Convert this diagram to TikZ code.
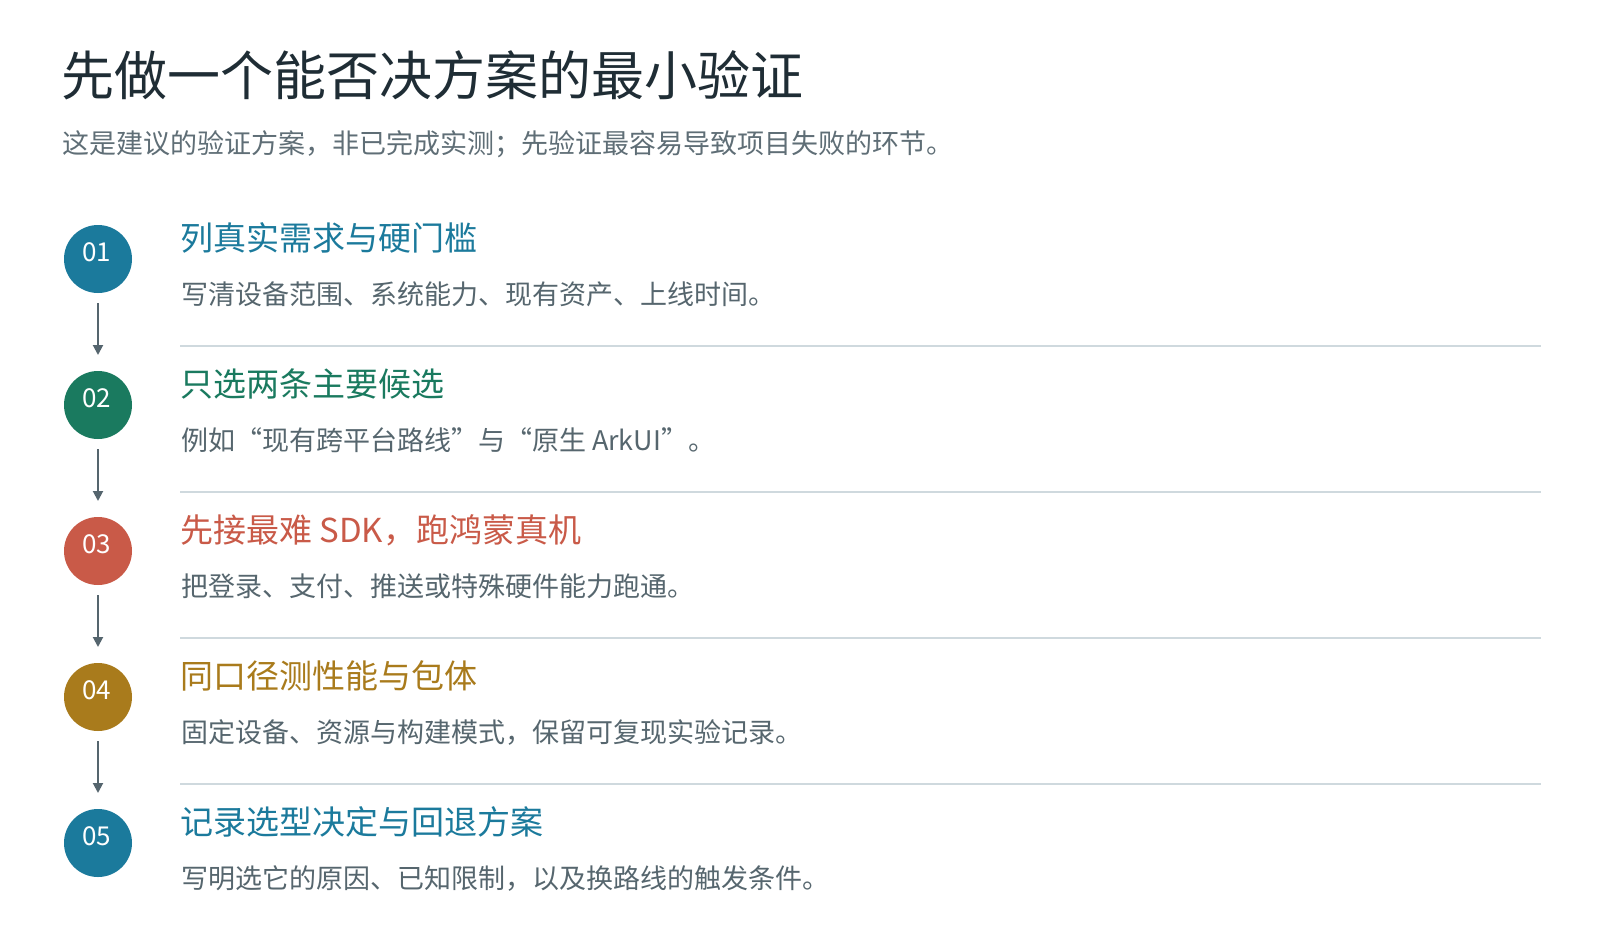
\documentclass[tikz,border=0pt]{standalone}
\usepackage{fontspec}
\setmainfont{Noto Sans CJK SC}
\usetikzlibrary{arrows.meta}
\definecolor{titlec}{HTML}{1F2D35}
\definecolor{subc}{HTML}{5F6E76}
\definecolor{descc}{HTML}{56666E}
\definecolor{tealc}{HTML}{1B7A9C}
\definecolor{greenc}{HTML}{1A7A5F}
\definecolor{redc}{HTML}{C95A48}
\definecolor{ochrec}{HTML}{A97B1C}
\definecolor{arrowc}{HTML}{55656E}
\definecolor{sepc}{HTML}{CFD9DE}
\tikzset{
  every node/.style={inner sep=0pt, outer sep=0pt},
  maintitle/.style={anchor=base west, text=titlec, font=\fontsize{53}{63}\selectfont},
  subtitle/.style={anchor=base west, text=subc, font=\fontsize{27}{32}\selectfont},
  stepcircle/.style={circle, minimum size=68pt, fill=#1},
  numtext/.style={text=white, font=\fontsize{26}{30}\selectfont},
  steptitle/.style={anchor=base west, text=#1, font=\fontsize{33}{40}\selectfont},
  stepdesc/.style={anchor=base west, text=descc, font=\fontsize{27}{32}\selectfont},
  sepline/.style={draw=sepc, line width=2pt},
  flowarrow/.style={draw=arrowc, line width=2pt, -{Triangle[length=10pt,width=10pt]}},
}
\begin{document}
\begin{tikzpicture}[x=1pt,y=-1pt]
\useasboundingbox (0,0) rectangle (1600,940);
\fill[white] (0,0) rectangle (1600,940);

\node[maintitle] (title) at (61,95) {先做一个能否决方案的最小验证};
\node[subtitle] (sub) at (62,153) {这是建议的验证方案，非已完成实测；先验证最容易导致项目失败的环节。};

% circles
\node[stepcircle=tealc]  (c1) at (98,259) {};
\node[stepcircle=greenc] (c2) at (98,405) {};
\node[stepcircle=redc]   (c3) at (98,551) {};
\node[stepcircle=ochrec] (c4) at (98,697) {};
\node[stepcircle=tealc]  (c5) at (98,843) {};
\node[numtext] (n1) at ([xshift=-1.5pt,yshift=7pt]c1.center) {01};
\node[numtext] (n2) at ([xshift=-1.5pt,yshift=7pt]c2.center) {02};
\node[numtext] (n3) at ([xshift=-1.5pt,yshift=7pt]c3.center) {03};
\node[numtext] (n4) at ([xshift=-1.5pt,yshift=7pt]c4.center) {04};
\node[numtext] (n5) at ([xshift=-1.5pt,yshift=7pt]c5.center) {05};

% titles
\node[steptitle=tealc]  (t1) at (180,250.5) {列真实需求与硬门槛};
\node[steptitle=greenc] (t2) at (180,396.5) {只选两条主要候选};
\node[steptitle=redc]   (t3) at (180,542.5) {先接最难 SDK，跑鸿蒙真机};
\node[steptitle=ochrec] (t4) at (180,688.5) {同口径测性能与包体};
\node[steptitle=tealc]  (t5) at (180,834.5) {记录选型决定与回退方案};

% descriptions
\node[stepdesc] (d1) at (181,304) {写清设备范围、系统能力、现有资产、上线时间。};
\node[stepdesc] (d2) at (181,450) {例如“现有跨平台路线”与“原生 ArkUI”。};
\node[stepdesc] (d3) at (181,596) {把登录、支付、推送或特殊硬件能力跑通。};
\node[stepdesc] (d4) at (181,742) {固定设备、资源与构建模式，保留可复现实验记录。};
\node[stepdesc] (d5) at (181,888) {写明选它的原因、已知限制，以及换路线的触发条件。};

% separators
\coordinate (s1a) at (180,346); \coordinate (s1b) at (1541,346);
\coordinate (s2a) at (180,492); \coordinate (s2b) at (1541,492);
\coordinate (s3a) at (180,638); \coordinate (s3b) at (1541,638);
\coordinate (s4a) at (180,784); \coordinate (s4b) at (1541,784);
\draw[sepline] (s1a) -- (s1b);
\draw[sepline] (s2a) -- (s2b);
\draw[sepline] (s3a) -- (s3b);
\draw[sepline] (s4a) -- (s4b);

% arrows
\draw[flowarrow] ([yshift=-10pt]c1.south) -- ([yshift=16pt]c2.north);
\draw[flowarrow] ([yshift=-10pt]c2.south) -- ([yshift=16pt]c3.north);
\draw[flowarrow] ([yshift=-10pt]c3.south) -- ([yshift=16pt]c4.north);
\draw[flowarrow] ([yshift=-10pt]c4.south) -- ([yshift=16pt]c5.north);
\end{tikzpicture}
\end{document}
